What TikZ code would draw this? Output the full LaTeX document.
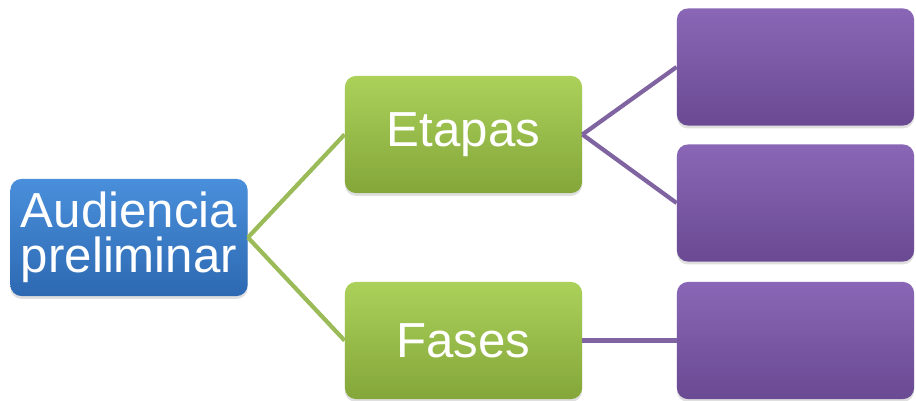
\documentclass[tikz,border=0pt]{standalone}
\usepackage{fontspec}
\setmainfont{Liberation Sans}
\usetikzlibrary{shadows}

\definecolor{bluetop}{HTML}{4A8FDB}
\definecolor{bluebot}{HTML}{2D69B2}
\definecolor{greentop}{HTML}{ABD15A}
\definecolor{greenbot}{HTML}{84A63A}
\definecolor{purpletop}{HTML}{8A67B6}
\definecolor{purplebot}{HTML}{6A4A92}
\definecolor{greenline}{HTML}{9BBB59}
\definecolor{purpleline}{HTML}{8064A2}

\tikzset{
	box/.style={rectangle, rounded corners=8pt, minimum width=5.93cm, minimum height=2.93cm,
		text=white, align=center, inner sep=0pt, font=\fontsize{35}{32}\selectfont,
		drop shadow={opacity=0.25, shadow xshift=0pt, shadow yshift=-2pt}},
	rootbox/.style={box, top color=bluetop, bottom color=bluebot},
	midbox/.style={box, top color=greentop, bottom color=greenbot},
	leafbox/.style={box, top color=purpletop, bottom color=purplebot},
	greenlink/.style={draw=greenline, line width=3pt},
	purplelink/.style={draw=purpleline, line width=3pt}
}

\begin{document}
\begin{tikzpicture}[x=0.025cm, y=-0.025cm]
		\useasboundingbox (0,0) rectangle (916,401);

		\draw (129,237.5) node[rootbox] (aud) {Audiencia\\preliminar};
		\draw (463.5,134.5) node[midbox] (etapas) {Etapas};
		\draw (463.5,340.5) node[midbox] (fases) {Fases};
		\draw (795.5,67) node[leafbox] (et1) {};
		\draw (795.5,203) node[leafbox] (et2) {};
		\draw (795.5,340.5) node[leafbox] (fa1) {};

		\path
			(aud.east) edge [greenlink]  (etapas.west)
			           edge [greenlink]  (fases.west)
			(etapas.east) edge [purplelink] (et1.west)
			              edge [purplelink] (et2.west)
			(fases.east)  edge [purplelink] (fa1.west);
\end{tikzpicture}
\end{document}
